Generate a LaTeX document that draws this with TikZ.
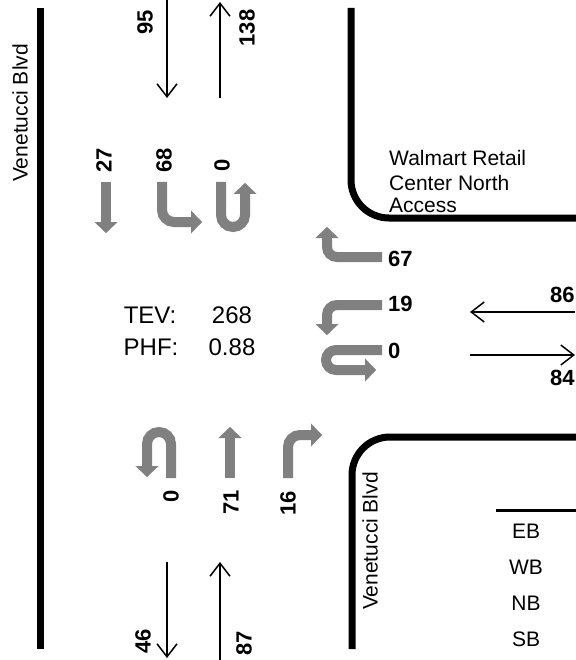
\documentclass[tikz,border=0pt]{standalone}
\usepackage{fontspec}
\setmainfont{Liberation Sans}
\usetikzlibrary{arrows.meta}

\begin{document}
\begin{tikzpicture}[x=1pt, y=-1pt,
    curb/.style={line width=7pt, black},
    lane/.style={line width=10pt, gray, -{Triangle[length=11pt, width=23pt, line width=0.1pt]}},
    flow/.style={line width=1.5pt, black, -{Straight Barb[length=13pt, width=20pt]}},
    vol/.style={font=\fontsize{22}{24}\selectfont\bfseries, inner sep=0pt},
    lbl/.style={font=\fontsize{21}{24}\selectfont, inner sep=0pt}]

    \useasboundingbox (0,0) rectangle (575,660);

    % Curbs
    \draw[curb] (40,8) -- (40,649);
    \draw[curb, rounded corners=38pt] (351,8) -- (351,218) -- (585,218);
    \draw[curb, rounded corners=38pt] (585,437) -- (352,437) -- (352,649);
    \node[lbl, rotate=90] (blvdW) at (20,113) {Venetucci Blvd};
    \node[lbl, rotate=90] (blvdE) at (370,541) {Venetucci Blvd};
    \node[lbl, anchor=base west] (walmartA) at (389,166) {Walmart Retail};
    \node[lbl, anchor=base west] (walmartB) at (389,190) {Center North};
    \node[lbl, anchor=base west] (walmartC) at (389,212) {Access};

    % Approach and departure totals
    \draw[flow] (167,0) -- (167,98);
    \draw[flow] (220,98) -- (220,2);
    \node[vol, rotate=90] (sbIn) at (145,22) {95};
    \node[vol, rotate=90] (sbOut) at (247,28) {138};
    \draw[flow] (575,312) -- (470,312);
    \draw[flow] (470,355) -- (575,355);
    \node[vol, anchor=base west] (wbIn) at (550,302) {86};
    \node[vol, anchor=base west] (wbOut) at (550,385) {84};
    \draw[flow] (167,562) -- (167,658);
    \draw[flow] (220,662) -- (220,562);
    \node[vol, rotate=90] (nbOut) at (143,641) {46};
    \node[vol, rotate=90] (nbIn) at (244,643) {87};

    % Southbound movements
    \draw[lane] (106,182) -- (106,233);
    \draw[lane, rounded corners=12pt] (162,182) -- (162,222) -- (202,222);
    \draw[lane, rounded corners=12pt] (221,182) -- (221,227) -- (245,227) -- (245,183);
    \node[vol, rotate=90] (sbThru) at (104,160) {27};
    \node[vol, rotate=90] (sbLeft) at (164,160) {68};
    \node[vol, rotate=90] (sbU) at (222,165) {0};

    % Westbound movements
    \draw[lane, rounded corners=10pt] (382,257) -- (327,257) -- (327,227);
    \draw[lane, rounded corners=10pt] (382,305) -- (327,305) -- (327,335);
    \draw[lane, rounded corners=10pt] (382,350) -- (326,350) -- (326,370) -- (376,370);
    \node[vol, anchor=west] (wbRight) at (388,259) {67};
    \node[vol, anchor=west] (wbLeft) at (388,304) {19};
    \node[vol, anchor=west] (wbU) at (388,351) {0};

    % Northbound movements
    \draw[lane, rounded corners=12pt] (171,478) -- (171,432) -- (147,432) -- (147,477);
    \draw[lane] (230,478) -- (230,427);
    \draw[lane, rounded corners=12pt] (288,478) -- (288,435) -- (322,435);
    \node[vol, rotate=90] (nbU) at (171,496) {0};
    \node[vol, rotate=90] (nbThru) at (231,502) {71};
    \node[vol, rotate=90] (nbRight) at (288,503) {16};

    % Totals
    \node[lbl, font=\fontsize{24}{28}\selectfont, anchor=base] (tev) at (150,323) {TEV:};
    \node[lbl, font=\fontsize{24}{28}\selectfont, anchor=base] (tevVal) at (232,323) {268};
    \node[lbl, font=\fontsize{24}{28}\selectfont, anchor=base] (phf) at (151,355) {PHF:};
    \node[lbl, font=\fontsize{24}{28}\selectfont, anchor=base] (phfVal) at (232,355) {0.88};

    % Direction table
    \draw[line width=3pt] (496,510) -- (580,510);
    \foreach \dir [count=\i] in {EB,WB,NB,SB} {
        \node[lbl] (dir\i) at (526,{531+36*(\i-1)}) {\dir};
    }

\end{tikzpicture}
\end{document}
